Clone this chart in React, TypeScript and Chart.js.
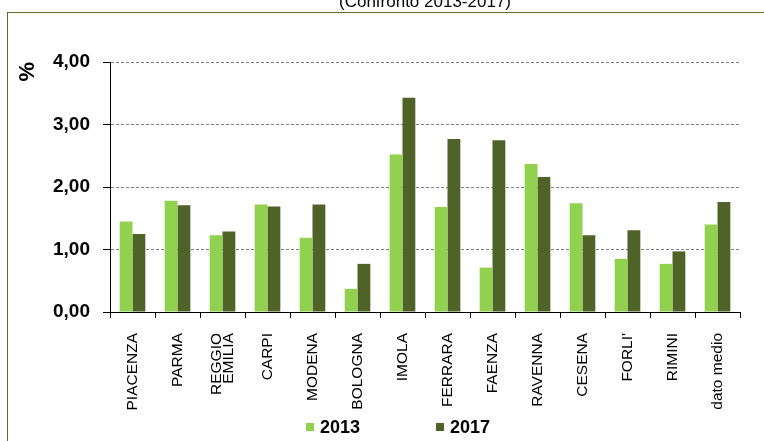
import { useEffect, useRef } from 'react';
import { Chart, registerables, CategoryScale } from 'chart.js';

Chart.register(...registerables);

// Tassi per città (%), confronto tra le due annualità
const cities: (string | string[])[] = [
  'PIACENZA', 'PARMA', ['REGGIO', 'EMILIA'], 'CARPI', 'MODENA', 'BOLOGNA', 'IMOLA',
  'FERRARA', 'FAENZA', 'RAVENNA', 'CESENA', "FORLI'", 'RIMINI', 'dato medio',
];
const values2013 = [1.45, 1.78, 1.23, 1.72, 1.19, 0.37, 2.52, 1.68, 0.71, 2.37, 1.74, 0.85, 0.77, 1.40];
const values2017 = [1.25, 1.71, 1.29, 1.69, 1.72, 0.77, 3.43, 2.77, 2.75, 2.16, 1.23, 1.31, 0.97, 1.76];
const yTickLabels = ['0,00', '1,00', '2,00', '3,00', '4,00'];
const seriesNames = ['2013', '2017'];
const seriesColors = ['#92d050', '#4f6228'];
const chartTitle = '(Confronto 2013-2017)';
const axisTitle = '%';

const FONT = '"Liberation Sans", Arial, Helvetica, sans-serif';

// Category axis that centres multi-line rotated labels on their tick
class CenteredCategoryScale extends CategoryScale {
  static id = 'centeredCategory';
  static defaults = CategoryScale.defaults;
  _computeLabelItems(chartArea: any) {
    // @ts-ignore
    const items = super._computeLabelItems(chartArea);
    items.forEach((item: any) => {
      if (Array.isArray(item.label) && item.label.length > 1) {
        item.textOffset -= ((item.label.length - 1) * item.font.lineHeight) / 2;
      }
    });
    return items;
  }
}
Chart.register(CenteredCategoryScale as any);

// Page frame, heading and the series key below the axis labels
const decorPlugin = {
  id: 'decor',
  beforeDraw(chart: any) {
    const ctx = chart.ctx as CanvasRenderingContext2D;
    ctx.save();
    ctx.fillStyle = '#ffffff';
    ctx.fillRect(0, 0, chart.width, chart.height);
    ctx.strokeStyle = '#5a6e2e';
    ctx.lineWidth = 1;
    ctx.strokeRect(7.5, 12.5, chart.width + 20, chart.height + 20);
    ctx.fillStyle = '#000000';
    ctx.font = `17px ${FONT}`;
    ctx.textAlign = 'center';
    ctx.textBaseline = 'alphabetic';
    ctx.fillText(chartTitle, 425, 7);
    ctx.restore();
  },
  afterDraw(chart: any) {
    const ctx = chart.ctx as CanvasRenderingContext2D;
    ctx.save();
    ctx.font = `bold 18px ${FONT}`;
    ctx.textAlign = 'left';
    ctx.textBaseline = 'alphabetic';
    chart.data.datasets.forEach((ds: any, i: number) => {
      const x = 306 + i * 130;
      ctx.fillStyle = ds.backgroundColor;
      ctx.fillRect(x, 423, 8, 8);
      ctx.fillStyle = '#000000';
      ctx.fillText(ds.label, x + 14, 433);
    });
    ctx.restore();
  },
};

export default function App() {
  const canvasRef = useRef<HTMLCanvasElement | null>(null);

  useEffect(() => {
    if (!canvasRef.current) return;
    const chart = new Chart(canvasRef.current, {
      type: 'bar',
      data: {
        labels: cities as any,
        datasets: [values2013, values2017].map((data, i) => ({
          label: seriesNames[i],
          data,
          backgroundColor: seriesColors[i],
          borderWidth: 0,
          categoryPercentage: 0.57,
          barPercentage: 1,
        })),
      },
      options: {
        responsive: false,
        maintainAspectRatio: false,
        animation: false,
        devicePixelRatio: 1,
        layout: { padding: { left: 8, right: 0, top: 62, bottom: 0 } },
        plugins: {
          legend: { display: false },
          title: { display: false },
          tooltip: { enabled: false },
        },
        scales: {
          x: {
            type: 'centeredCategory' as any,
            offset: true,
            grid: {
              offset: true,
              drawOnChartArea: false,
              drawTicks: true,
              tickLength: 6,
              color: '#000000',
              tickColor: '#000000',
            },
            border: { color: '#000000', width: 1 },
            ticks: {
              autoSkip: false,
              minRotation: 90,
              maxRotation: 90,
              padding: 15,
              color: '#000000',
              font: { family: FONT, size: 15.5, lineHeight: '12.5px' },
            },
            afterFit: (s: any) => {
              s.height = 129;
              s.paddingRight = 24;
              s.paddingLeft = 0;
            },
          },
          y: {
            min: 0,
            max: 4,
            ticks: {
              stepSize: 1,
              padding: 13,
              color: '#000000',
              font: { family: FONT, size: 19, weight: 'bold' },
              callback: (_v: any, i: number) => yTickLabels[i],
            },
            grid: {
              color: '#7f7f7f',
              lineWidth: 1,
              tickLength: 7,
              tickColor: '#000000',
              tickBorderDash: [],
            },
            border: { color: '#000000', width: 1, dash: [3, 2] },
            title: {
              display: true,
              text: axisTitle,
              align: 'end',
              color: '#000000',
              font: { family: FONT, size: 22, weight: 'bold' },
              padding: { top: 7, bottom: 0 },
            },
            afterFit: (s: any) => {
              s.width = 102;
            },
          },
        },
      },
      plugins: [decorPlugin],
    });
    return () => chart.destroy();
  }, []);

  return (
    <div style={{ position: 'fixed', left: 0, top: 0, width: 764, height: 441, background: '#fff' }}>
      <canvas ref={canvasRef} width={764} height={441} style={{ display: 'block' }} />
    </div>
  );
}
